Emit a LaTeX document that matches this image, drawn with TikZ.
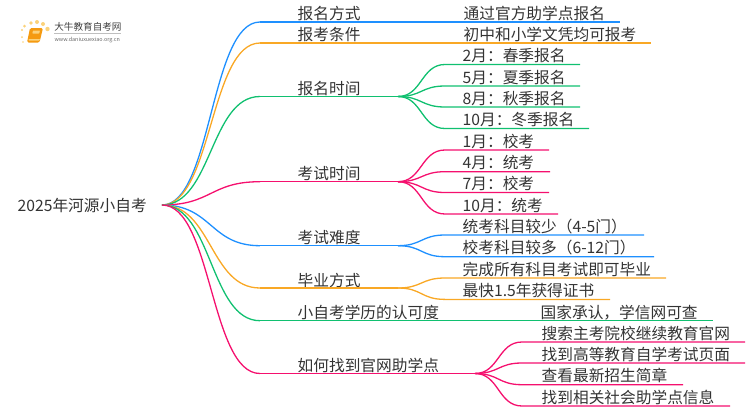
\documentclass[tikz,border=0pt]{standalone}
\usepackage{fontspec}
\setmainfont{Noto Sans CJK SC}
\usetikzlibrary{positioning}

\definecolor{lblue}{HTML}{1E90FF}
\definecolor{lorange}{HTML}{F9A825}
\definecolor{lgreen}{HTML}{10C070}
\definecolor{lpink}{HTML}{F5106E}
\definecolor{lbook}{HTML}{F59A10}
\definecolor{ldot}{HTML}{FBD27A}

\tikzstyle{label} = [
	inner sep = 0pt,
	anchor = base west,
	text = black!80,
	font = \fontsize{15.7}{16}\selectfont
	]

\begin{document}
\begin{tikzpicture}[
	x = 1pt,
	y = -1pt,
	every path/.style = {
	line width = 1.3pt
	}
	]

	\useasboundingbox (0,0) rectangle (750,410);

	\node[label] (root) at (17,211) {2025年河源小自考};
	\coordinate (start) at (162,205);

	% first level
	\coordinate (way) at (260,22);
	\coordinate (cond) at (260,43);
	\coordinate (time) at (260,96.5);
	\coordinate (exam) at (260,181.7);
	\coordinate (hard) at (260,245.7);
	\coordinate (grad) at (260,288);
	\coordinate (rec) at (260,320.7);
	\coordinate (find) at (260,373.5);

	\node[label] (tway) at (297,19.5) {报名方式};
	\node[label] (tcond) at (297,40.5) {报考条件};
	\node[label] (ttime) at (297,94) {报名时间};
	\node[label] (texam) at (297,179.5) {考试时间};
	\node[label] (thard) at (297,243.5) {考试难度};
	\node[label] (tgrad) at (297,286) {毕业方式};
	\node[label] (trec) at (297,318.5) {小自考学历的认可度};
	\node[label] (tfind) at (297,371.5) {如何找到官网助学点};

	\draw[lblue] (start) .. controls +(50,0) and +(-50,0) .. (way);
	\draw[lorange] (start) .. controls +(50,0) and +(-50,0) .. (cond);
	\draw[lgreen] (start) .. controls +(50,0) and +(-50,0) .. (time);
	\draw[lpink] (start) .. controls +(50,0) and +(-50,0) .. (exam);
	\draw[lblue] (start) .. controls +(50,0) and +(-50,0) .. (hard);
	\draw[lorange] (start) .. controls +(50,0) and +(-50,0) .. (grad);
	\draw[lgreen] (start) .. controls +(50,0) and +(-50,0) .. (rec);
	\draw[lpink] (start) .. controls +(50,0) and +(-50,0) .. (find);

	% second level
	\coordinate (way1) at (620,22);
	\coordinate (cond1) at (651,43);
	\node[label] (tway1) at (463,19.5) {通过官方助学点报名};
	\node[label] (tcond1) at (463,40.5) {初中和小学文凭均可报考};
	\draw[lblue] (way) -- (way1);
	\draw[lorange] (cond) -- (cond1);

	\coordinate (timeb) at (398,96.5);
	\draw[lgreen] (time) -- (timeb);
	\foreach \name/\y/\xend/\txt in {
		time1/64.5/580/2月：春季报名,
		time2/86/580/5月：夏季报名,
		time3/107/580/8月：秋季报名,
		time4/128.5/589/10月：冬季报名} {
		\coordinate (\name) at (445,\y);
		\coordinate (\name e) at (\xend,\y);
		\node[label] (t\name) at (462,\y-3) {\txt};
		\draw[lgreen] (timeb) .. controls +(24,0) and +(-24,0) .. (\name) -- (\name e);
	}

	\coordinate (examb) at (398,181.7);
	\draw[lpink] (exam) -- (examb);
	\foreach \name/\y/\xend/\txt in {
		exam1/150/549/1月：校考,
		exam2/171.7/550/4月：统考,
		exam3/192.5/549/7月：校考,
		exam4/214/558/10月：统考} {
		\coordinate (\name) at (445,\y);
		\coordinate (\name e) at (\xend,\y);
		\node[label] (t\name) at (462,\y-3) {\txt};
		\draw[lpink] (examb) .. controls +(24,0) and +(-24,0) .. (\name) -- (\name e);
	}

	\coordinate (hardb) at (398,245.7);
	\draw[lblue] (hard) -- (hardb);
	\foreach \name/\y/\xend/\txt in {
		hard1/235/644/统考科目较少（4-5门）,
		hard2/256.7/654/校考科目较多（6-12门）} {
		\coordinate (\name) at (445,\y);
		\coordinate (\name e) at (\xend,\y);
		\node[label] (t\name) at (462,\y-3) {\txt};
		\draw[lblue] (hardb) .. controls +(24,0) and +(-24,0) .. (\name) -- (\name e);
	}

	\coordinate (gradb) at (398,288);
	\draw[lorange] (grad) -- (gradb);
	\foreach \name/\y/\xend/\txt in {
		grad1/278/666/完成所有科目考试即可毕业,
		grad2/299.4/610/最快1.5年获得证书} {
		\coordinate (\name) at (445,\y);
		\coordinate (\name e) at (\xend,\y);
		\node[label] (t\name) at (462,\y-3) {\txt};
		\draw[lorange] (gradb) .. controls +(24,0) and +(-24,0) .. (\name) -- (\name e);
	}

	\coordinate (rec1) at (713,320.7);
	\node[label] (trec1) at (540,318.5) {国家承认，学信网可查};
	\draw[lgreen] (rec) -- (rec1);

	\coordinate (findb) at (475,373.5);
	\draw[lpink] (find) -- (findb);
	\foreach \name/\y/\xend/\txt in {
		find1/342/745/搜索主考院校继续教育官网,
		find2/363/745/找到高等教育自学考试页面,
		find3/384.7/683/查看最新招生简章,
		find4/406/730/找到相关社会助学点信息} {
		\coordinate (\name) at (522,\y);
		\coordinate (\name e) at (\xend,\y);
		\node[label] (t\name) at (541,\y-3) {\txt};
		\draw[lpink] (findb) .. controls +(24,0) and +(-24,0) .. (\name) -- (\name e);
	}

	% logo
	\node[inner sep=0pt, anchor=base west, text=black!75, font=\fontsize{9.6}{10}\selectfont] (logo) at (53.7,30.5) {大牛教育自考网};
	\node[inner sep=0pt, anchor=base west, text=black!60, font=\fontsize{5.4}{6}\selectfont] (site) at (54,41) {www.daniuxuexiao.org.cn};
	\draw[black!25, line width=0.5pt] (54,33.3) -- (121,33.3);
	\fill[lbook, rounded corners=1.5pt] (30,28) -- (43,28) -- (39.5,42.5) -- (27,42.5) -- cycle;
	\fill[ldot, rounded corners=0.5pt] (28.5,39) -- (40,39) -- (39.6,40.5) -- (28.5,40.5) -- cycle;
	\fill[ldot, rounded corners=0.5pt] (33,30.5) -- (40,30.5) -- (39.2,33.5) -- (32.3,33.5) -- cycle;
	\foreach \px/\py/\r in {22/37/1, 22/30/1.2, 24.5/26/1.5, 31/23/1.8, 37/22/2, 43/24/2, 47.5/29/2.2, 23/42/0.8} {
		\fill[ldot] (\px,\py) circle (\r);
	}
\end{tikzpicture}
\end{document}
